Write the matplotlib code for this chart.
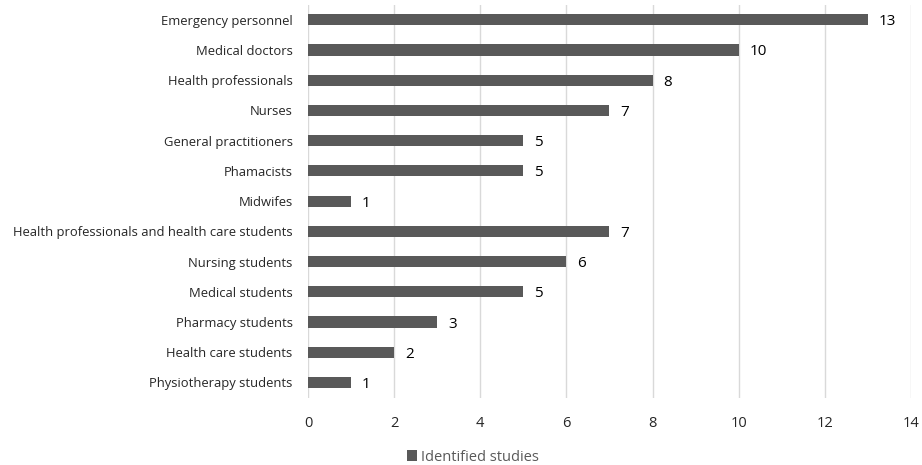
import matplotlib
matplotlib.use("Agg")
import matplotlib.pyplot as plt

categories = ["Emergency personnel", "Medical doctors", "Health professionals", "Nurses",
              "General practitioners", "Phamacists", "Midwifes",
              "Health professionals and health care students", "Nursing students",
              "Medical students", "Pharmacy students", "Health care students",
              "Physiotherapy students"]
studies = [13, 10, 8, 7, 5, 5, 1, 7, 6, 5, 3, 2, 1]
xticks = [0, 2, 4, 6, 8, 10, 12, 14]

plt.rcParams['font.family'] = ['Open Sans', 'DejaVu Sans']

fig = plt.figure(figsize=(9.22, 4.65), dpi=100)
ax = fig.add_axes([0.334, 0.145, 0.654, 0.845])

ypos = list(range(len(categories)))[::-1]
bars = ax.barh(ypos, studies, height=0.37, color="#595959", label="Identified studies", zorder=3)

for y, v in zip(ypos, studies):
    ax.text(v + 0.25, y, str(v), va="center_baseline", ha="left", fontsize=11, color="black")

ax.set_yticks(ypos)
ax.set_yticklabels(categories, fontsize=9.4, color="#262626")
ax.set_ylim(-0.5, len(categories) - 0.5)
ax.set_xlim(0, 14)
ax.set_xticks(xticks)
ax.set_xticklabels([str(t) for t in xticks], fontsize=10.5, color="#262626")
ax.tick_params(length=0)
ax.tick_params(axis="x", pad=13)
ax.tick_params(axis="y", pad=11)
ax.grid(axis="x", color="#d9d9d9", linewidth=1, zorder=0)
for s in ax.spines.values():
    s.set_visible(False)

fig.legend(handles=[bars], labels=["Identified studies"], loc="center", bbox_to_anchor=(0.513, 0.017),
           frameon=False, fontsize=10.5, handlelength=0.7, handleheight=0.7, handletextpad=0.3,
           labelcolor="#595959")

fig.savefig("out.png", dpi=100)
